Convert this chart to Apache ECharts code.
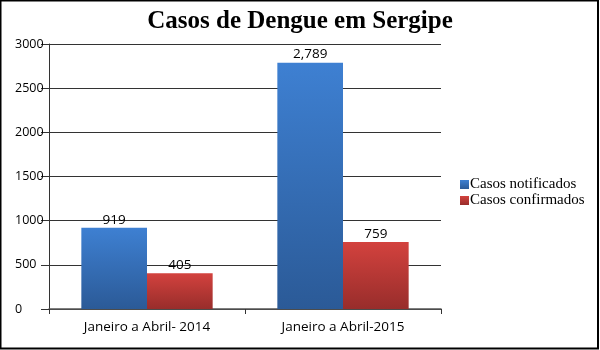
<!DOCTYPE html>
<html><head><meta charset="utf-8">
<script src="https://cdn.jsdelivr.net/npm/echarts@6/dist/echarts.min.js"></script>
<style>html,body{margin:0;padding:0;background:#fff}#c{width:600px;height:350px}</style>
</head><body><div id="c"></div>
<script>
const categories = ['Janeiro a Abril- 2014', 'Janeiro a Abril-2015'];
const seriesNames = ['Casos notificados', 'Casos confirmados'];
const notificados = [919, 2789];
const confirmados = [405, 759];
const yTicks = [0, 500, 1000, 1500, 2000, 2500, 3000];

const chart = echarts.init(document.getElementById('c'), null, {renderer: 'canvas'});
const grad = (a, b) => new echarts.graphic.LinearGradient(0, 0, 0, 1, [{offset: 0, color: a}, {offset: 1, color: b}]);
const lbl = {
  show: true, position: 'top', distance: 1, color: '#000',
  fontFamily: 'Open Sans', fontSize: 13.5,
  formatter: p => p.value.toLocaleString('en-US')
};
chart.setOption({
  animation: false,
  title: {
    text: 'Casos de Dengue em Sergipe', left: 'center', top: 4,
    textStyle: {fontFamily: 'Liberation Serif', fontWeight: 'bold', fontSize: 25, color: '#000'}
  },
  legend: {
    orient: 'vertical', left: 455, top: 172, itemWidth: 9, itemHeight: 9, itemGap: 1,
    icon: 'rect',
    textStyle: {fontFamily: 'Liberation Serif', fontSize: 15, color: '#000', padding: [0, 0, 0, -4]},
    data: seriesNames
  },
  grid: {left: 49, right: 159, top: 44, bottom: 41},
  xAxis: {
    type: 'category', data: categories,
    axisLine: {lineStyle: {color: '#555', width: 1.5}},
    axisTick: {show: true, length: 5, lineStyle: {color: '#333'}},
    axisLabel: {fontFamily: 'Open Sans', fontSize: 13.5, color: '#000', margin: 11}
  },
  yAxis: {
    type: 'value', min: yTicks[0], max: yTicks[yTicks.length - 1], interval: 500,
    axisLine: {show: true, lineStyle: {color: '#333'}},
    axisTick: {show: true, inside: false, length: 8, lineStyle: {color: '#333'}},
    axisLabel: {fontFamily: 'Open Sans', fontSize: 12.5, color: '#000', margin: 34, align: 'left',
      formatter: v => String(v)},
    splitLine: {lineStyle: {color: '#333', width: 1}}
  },
  series: [
    {name: seriesNames[0], type: 'bar', data: notificados, barGap: '0%', barCategoryGap: '33%',
     itemStyle: {color: grad('#3e80d2', '#2b5a97')}, label: lbl},
    {name: seriesNames[1], type: 'bar', data: confirmados,
     itemStyle: {color: grad('#d3423e', '#982d2b')}, label: lbl}
  ],
  graphic: [{
    type: 'rect', z: 100, silent: true,
    shape: {x: 0.5, y: 0.5, width: 597.5, height: 348},
    style: {fill: 'none', stroke: '#000', lineWidth: 2}
  }]
});
</script></body></html>
